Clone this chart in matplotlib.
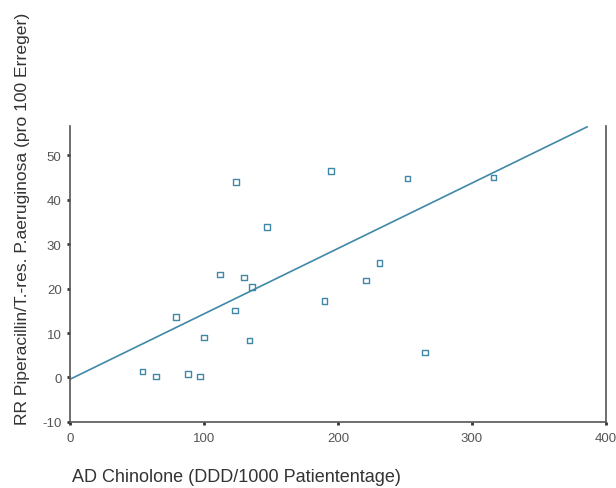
import matplotlib
matplotlib.use('Agg')
import matplotlib.pyplot as plt
import numpy as np

# Values (AD Chinolone vs. RR Piperacillin/T.-res.)
ad_chinolone = [54, 64, 88, 97, 79, 100, 112, 124, 130, 136,
                123, 134, 147, 195, 190, 252, 316, 231, 221, 265]
rr_pip = [1.3, 0.2, 0.8, 0.2, 13.6, 9.0, 23.2, 43.9, 22.5, 20.3,
          15.1, 8.3, 33.8, 46.4, 17.2, 44.7, 45.0, 25.7, 21.8, 5.6]

# regression line as drawn in the source
fit_x = [0, 386]
fit_intercept = -0.4
fit_slope = 0.147

x_ticks = [0, 100, 200, 300, 400]
y_ticks = [-10, 0, 10, 20, 30, 40, 50]

plt.rcParams['font.family'] = ['Liberation Sans', 'DejaVu Sans']
plt.rcParams['axes.unicode_minus'] = False

col = '#3f88a8'
fig = plt.figure(figsize=(6.16, 4.89), dpi=100)
ax = fig.add_axes([0.1136, 0.135, 0.870, 0.605])

fx = np.array(fit_x)
ax.plot(fx, fit_intercept + fit_slope * fx, color=col, lw=1.2, zorder=2)
ax.scatter(ad_chinolone, rr_pip, marker='s', s=16, facecolors='none',
           edgecolors=col, linewidths=1.0, zorder=3)

ax.set_xlim(0, 400)
ax.set_ylim(-10, 56.5)
ax.set_xticks(x_ticks)
ax.set_yticks(y_ticks)
ax.spines['top'].set_visible(False)
for s in ['left', 'bottom', 'right']:
    ax.spines[s].set_color('#555555')
    ax.spines[s].set_linewidth(1.2)
ax.tick_params(direction='out', length=2, width=2, color='#333333',
               labelcolor='#555555', labelsize=9.5, pad=4)
ax.tick_params(axis='x', pad=5)

ax.set_ylabel('RR Piperacillin/T.-res. P.aeruginosa (pro 100 Erreger)',
              fontsize=12.6, color='#333333')
ax.yaxis.set_label_coords(-0.075, 0.69)
fig.text(0.117, 0.006, 'AD Chinolone (DDD/1000 Patiententage)',
         fontsize=13, color='#333333', ha='left', va='bottom')

fig.savefig('out.png', dpi=100)
